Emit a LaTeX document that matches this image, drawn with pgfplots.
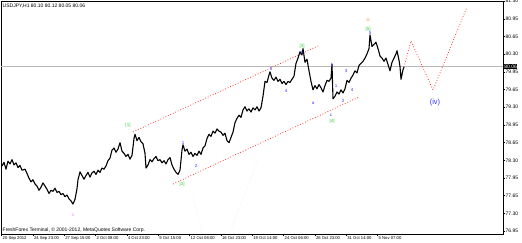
\documentclass[border=0pt]{standalone}
\usepackage{fontspec}
\setmainfont{Liberation Sans}
\usepackage{pgfplots}
\pgfplotsset{compat=1.18}
\definecolor{wgreen}{HTML}{33CC33}
\definecolor{wblue}{HTML}{3333FF}
\definecolor{wpink}{HTML}{F080F0}
\definecolor{worange}{HTML}{D09040}
\definecolor{wred}{HTML}{FF2020}
\pgfplotstableread{
x y
2 78.18
4 78.25
6 78.12
8 78.27
10 78.22
12 78.30
14 78.20
16 78.24
18 78.15
20 78.19
22 78.10
25 78.12
27 78.04
29 77.95
31 77.88
33 77.92
35 77.84
37 77.80
39 77.72
41 77.78
43 77.86
45 77.80
47 77.74
49 77.66
51 77.72
53 77.70
55 77.76
57 77.68
59 77.70
61 77.64
63 77.66
65 77.60
67 77.63
69 77.56
71 77.52
73 77.46
75 77.55
77 77.75
78 77.92
80 78.07
82 78.00
84 77.93
86 78.00
88 78.06
90 77.97
92 78.05
94 78.08
96 78.02
98 78.10
100 78.06
102 78.14
104 78.12
106 78.18
108 78.28
110 78.33
112 78.48
114 78.52
116 78.44
118 78.50
120 78.62
122 78.46
124 78.42
126 78.36
128 78.40
130 78.31
132 78.38
134 78.70
135 78.78
137 78.66
139 78.72
141 78.64
143 78.60
145 78.42
146 78.14
148 78.20
150 78.30
152 78.26
154 78.32
156 78.36
158 78.28
160 78.30
162 78.24
164 78.28
166 78.22
168 78.30
170 78.34
172 78.20
174 78.12
176 78.06
178 78.02
180 78.10
182 78.48
183 78.58
185 78.46
187 78.50
189 78.40
191 78.44
193 78.36
195 78.42
197 78.38
199 78.46
201 78.40
203 78.52
205 78.56
207 78.70
209 78.78
211 78.74
213 78.84
215 78.80
217 78.88
219 78.84
221 78.82
223 78.76
225 78.80
227 78.66
229 78.62
231 78.72
233 78.82
235 79.00
237 79.08
239 79.14
241 79.10
243 79.24
245 79.30
247 79.22
249 79.26
251 79.20
253 79.28
255 79.24
257 79.30
259 79.22
261 79.28
263 79.50
265 79.78
267 79.76
269 79.90
270 79.96
272 79.84
274 79.80
276 79.86
278 79.78
280 79.82
282 79.74
284 79.78
286 79.72
288 79.78
290 79.76
292 79.82
294 79.88
296 80.12
298 80.22
300 80.34
302 80.28
303 80.40
305 80.14
307 80.20
309 79.98
311 79.78
313 79.62
315 79.70
317 79.64
319 79.72
321 79.66
323 79.58
325 79.70
327 79.80
329 79.78
331 79.84
332 80.10
333 79.45
335 79.50
337 79.58
339 79.54
341 79.62
343 79.56
345 79.64
347 79.80
349 79.76
351 79.84
353 79.90
355 79.98
357 79.94
359 80.08
361 80.12
363 80.16
365 80.22
367 80.30
369 80.40
370 80.66
372 80.44
374 80.48
376 80.52
378 80.40
380 80.26
382 80.22
384 80.16
386 80.22
388 80.10
390 79.98
392 80.14
394 80.22
396 80.30
397 80.36
399 80.18
400 80.06
401 79.82
403 80.00
404 80.05
}\price
\begin{document}
\begin{tikzpicture}
\useasboundingbox (0,0) rectangle (522pt,243pt);
\fill[white] (0,0) rectangle (522pt,243pt);
\begin{axis}[
  at={(1pt,9pt)}, anchor=south west,
  scale only axis, width=502pt, height=233pt,
  xmin=1, xmax=503, ymin=76.894, ymax=81.30,
  clip=false,
  axis line style={black, line width=0.6pt},
  /pgf/number format/assume math mode=true,
  tick align=outside, major tick length=2pt,
  tick style={black, line width=0.4pt},
  xtick pos=lower, ytick pos=right,
  yticklabel pos=right,
  ticklabel style={font=\fontsize{5}{6}\selectfont},
  xtick={1.5,32.8,64.2,95.5,126.8,158.2,189.5,220.8,252.2,283.5,314.8,346.2,377.5},
  xticklabels={20 Sep 2012,24 Sep 23:00,27 Sep 15:00,2 Oct 08:00,4 Oct 23:00,9 Oct 15:00,12 Oct 08:00,16 Oct 23:00,19 Oct 14:00,24 Oct 06:00,26 Oct 23:00,31 Oct 14:00,5 Nov 07:00},
  xticklabel style={anchor=north west, inner sep=0.5pt, xshift=0.5pt, font=\fontsize{4.2}{5}\selectfont},
  ytick={81.300,80.965,80.631,80.296,79.962,79.627,79.292,78.958,78.623,78.288,77.954,77.619,77.285,76.950},
  yticklabels={81.30,80.95,80.65,80.30,79.95,79.65,79.30,78.95,78.65,78.30,77.95,77.65,77.30,76.95},
  yticklabel style={anchor=west, inner sep=0.5pt},
]
% faint lines
\addplot[gray!18, densely dotted, line width=0.4pt] coordinates {(193,77.575) (202,76.932)};
\addplot[gray!18, densely dotted, line width=0.4pt] coordinates {(230,76.932) (258,78.293)};
% current price line
\addplot[gray!55, line width=0.5pt] coordinates {(1,80.06) (503,80.06)};
% channel
\addplot[wred, dotted, line width=0.75pt] coordinates {(133,78.823) (320,80.468)};
\addplot[wred, dotted, line width=0.75pt] coordinates {(173,77.839) (359,79.485)};
% price
\addplot[black, line width=1.1pt, line join=round] table[x=x, y=y] {\price};
% projection
\addplot[wred, dotted, line width=0.75pt] coordinates {(404,80.052) (411,80.544) (433,79.617) (467,81.187)};
% labels
\begin{scope}[every node/.style={inner sep=0pt, font=\fontsize{4.5}{5}\selectfont}]
\node[text=wpink] at (axis cs:73,77.253) {ii};
\node[text=wgreen] at (axis cs:128,78.955) {[1]};
\node[text=wgreen] at (axis cs:182,77.839) {[2]};
\node[text=wblue] at (axis cs:183,78.615) {1};
\node[text=wblue] at (axis cs:196,78.180) {2};
\node[text=wblue] at (axis cs:271,80.014) {3};
\node[text=wblue] at (axis cs:286,79.598) {4};
\node[text=wgreen] at (axis cs:302,80.449) {[3]};
\node[text=wblue] at (axis cs:302,80.317) {5};
\node[text=wblue] at (axis cs:313,79.371) {a};
\node[text=wblue] at (axis cs:332,80.090) {b};
\node[text=wblue] at (axis cs:331,79.144) {c};
\node[text=wgreen] at (axis cs:332,79.031) {[4]};
\node[text=wblue] at (axis cs:336,79.693) {1};
\node[text=wblue] at (axis cs:343,79.409) {2};
\node[text=wblue] at (axis cs:346,79.976) {3};
\node[text=wblue] at (axis cs:352,79.617) {4};
\node[text=wblue] at (axis cs:370,80.695) {5};
\node[text=wgreen] at (axis cs:368,80.771) {[5]};
\node[text=worange] at (axis cs:368,80.941) {iii};
\node[text=wblue, font=\fontsize{7.5}{8}\selectfont] at (axis cs:435,79.371) {(iv)};
\node[anchor=west, font=\fontsize{5}{6}\selectfont] at (axis cs:2.5,81.20) {USDJPY,H1  80.10 80.12 80.05 80.06};
\node[anchor=west, font=\fontsize{5}{6}\selectfont] at (axis cs:2.5,76.96) {FreshForex Terminal, \textcopyright{} 2001-2012, MetaQuotes Software Corp.};
\end{scope}
\coordinate (pb) at (axis cs:503.5,80.06);
\end{axis}
\node[fill=black, text=white, anchor=west, inner sep=0.6pt, font=\fontsize{5}{6}\selectfont] at (pb) {80.06};
\end{tikzpicture}
\end{document}
